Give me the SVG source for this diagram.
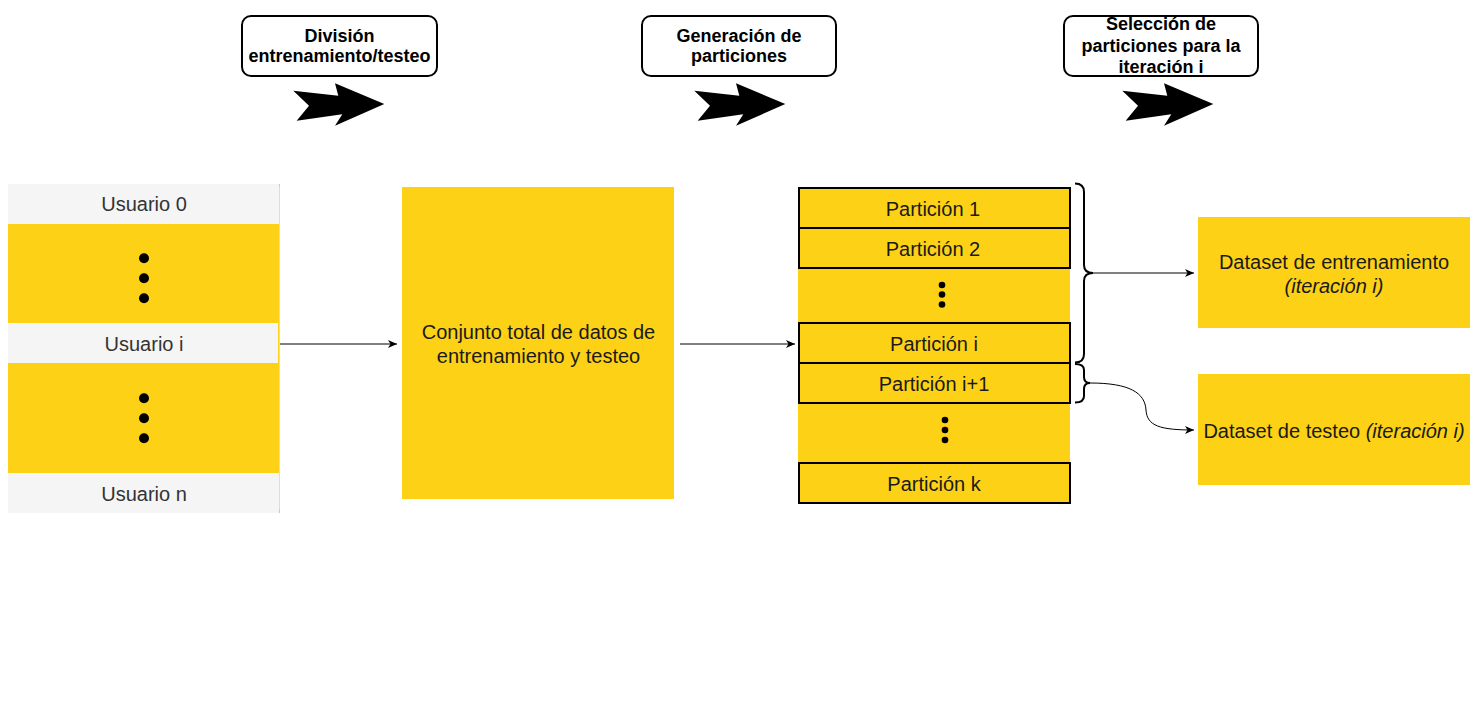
<svg xmlns="http://www.w3.org/2000/svg" xmlns:xlink="http://www.w3.org/1999/xlink" width="1479" height="710" viewBox="0 0 1479 710">
<style>
.y{fill:#FDD116;}
.g{fill:#F5F5F5;}
.part{fill:#FDD116;stroke:#000;stroke-width:2;}
.t{font-family:"Liberation Sans",Arial,sans-serif;font-size:20px;fill:#1A1A1A;text-anchor:middle;}
.u{fill:#333333;}
.h{font-family:"Liberation Sans",Arial,sans-serif;font-size:18px;font-weight:bold;fill:#000;text-anchor:middle;}
.title{fill:#fff;stroke:#000;stroke-width:2;}
.conn{fill:none;stroke:#000;stroke-width:1;}
.brace{fill:none;stroke:#000;stroke-width:2;}
</style>
<defs>
<marker id="arr" markerWidth="10" markerHeight="8" refX="9" refY="4" orient="auto" markerUnits="userSpaceOnUse">
<path d="M0,0 L9,4 L0,8 L2.5,4 Z" fill="#000"/>
</marker>
<path id="blockArrow" d="M0.3,7.7 L45.3,12.7 L42,0.3 L91.3,21 L42,42.7 L49.3,31.3 L3.7,37.7 L16,22.7 Z" fill="#000"/>
</defs>
<rect width="1479" height="710" fill="#fff"/>

<g id="step1">
<rect class="title" x="242" y="16" width="195" height="60" rx="9"/>
<text class="h" x="339.5" y="42">División</text>
<text class="h" x="339.5" y="62">entrenamiento/testeo</text>
<use xlink:href="#blockArrow" x="293" y="83"/>
</g>
<g id="step2">
<rect class="title" x="642" y="16" width="194" height="60" rx="9"/>
<text class="h" x="739" y="42">Generación de</text>
<text class="h" x="739" y="62">particiones</text>
<use xlink:href="#blockArrow" x="694" y="83"/>
</g>
<g id="step3">
<rect class="title" x="1064" y="16" width="194" height="60" rx="9"/>
<text class="h" x="1161" y="30">Selección de</text>
<text class="h" x="1161" y="51.5">particiones para la</text>
<text class="h" x="1161" y="72.5">iteración i</text>
<use xlink:href="#blockArrow" x="1122" y="83"/>
</g>

<g id="usuarios">
<rect class="y" x="8" y="184" width="272" height="329"/>
<line x1="279.5" y1="187" x2="279.5" y2="509" stroke="#FBE27A" stroke-width="1"/>
<rect class="g" x="8" y="184" width="271" height="40"/>
<rect class="g" x="8" y="323" width="270" height="40"/>
<rect class="g" x="8" y="473" width="271" height="40"/>
<text class="t u" x="144" y="211">Usuario 0</text>
<text class="t u" x="144" y="351">Usuario i</text>
<text class="t u" x="144" y="501">Usuario n</text>
<circle cx="144" cy="258.3" r="5"/>
<circle cx="144" cy="278.3" r="5"/>
<circle cx="144" cy="298.3" r="5"/>
<circle cx="144" cy="398.3" r="5"/>
<circle cx="144" cy="418.3" r="5"/>
<circle cx="144" cy="438.3" r="5"/>
</g>

<g id="conjunto">
<rect class="y" x="402" y="187" width="272" height="312"/>
<text class="t" x="538.5" y="339">Conjunto total de datos de</text>
<text class="t" x="538.5" y="363">entrenamiento y testeo</text>
</g>

<g id="particiones">
<rect class="y" x="798" y="188" width="272" height="315"/>
<rect class="part" x="799" y="188" width="271" height="40"/>
<rect class="part" x="799" y="228" width="271" height="40"/>
<rect class="part" x="799" y="323" width="271" height="40"/>
<rect class="part" x="799" y="363" width="271" height="40"/>
<rect class="part" x="799" y="463" width="271" height="40"/>
<text class="t" x="933" y="216">Partición 1</text>
<text class="t" x="933" y="256">Partición 2</text>
<text class="t" x="934" y="351">Partición i</text>
<text class="t" x="934" y="391">Partición i+1</text>
<text class="t" x="934" y="491">Partición k</text>
<circle cx="942" cy="285" r="3.3"/>
<circle cx="942" cy="294.5" r="3.3"/>
<circle cx="942" cy="304.5" r="3.3"/>
<circle cx="945" cy="420" r="3.3"/>
<circle cx="945" cy="430" r="3.3"/>
<circle cx="945" cy="440" r="3.3"/>
</g>

<g id="brace-train">
<path class="brace" d="M1075,183.5 Q1084,183.5 1084,192 L1084,265 Q1084,273 1093,273 Q1084,273 1084,281 L1084,354 Q1084,362.5 1075,362.5"/>
</g>
<g id="brace-test">
<path class="brace" d="M1075,364 Q1084,364 1084,370 L1084,377 Q1084,383 1090,383 Q1084,383 1084,389 L1084,396 Q1084,402.5 1075,402.5"/>
</g>

<g id="dataset-train">
<rect class="y" x="1198" y="217" width="272" height="111"/>
<text class="t" x="1334" y="269">Dataset de entrenamiento</text>
<text class="t" x="1334" y="293" font-style="italic">(iteración i)</text>
</g>
<g id="dataset-test">
<rect class="y" x="1198" y="374" width="272" height="111"/>
<text class="t" x="1334" y="438">Dataset de testeo <tspan font-style="italic">(iteración i)</tspan></text>
</g>

<g id="connectors">
<path class="conn" d="M280,344 L397,344" marker-end="url(#arr)"/>
<path class="conn" d="M680,344 L795,344" marker-end="url(#arr)"/>
<path class="conn" d="M1093,273 L1194,273" stroke="#444" marker-end="url(#arr)"/>
<path class="conn" d="M1090,383 C1130,383 1145,393 1146,410 C1147,426 1160,430 1194,430" marker-end="url(#arr)"/>
</g>
</svg>
